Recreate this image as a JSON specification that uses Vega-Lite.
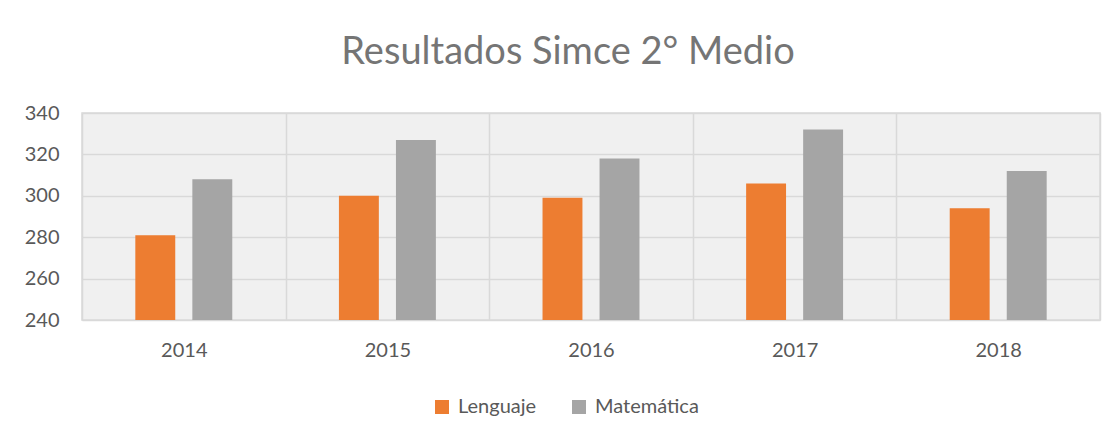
{
  "$schema": "https://vega.github.io/schema/vega-lite/v6.json",
  "autosize": "none",
  "width": 1018,
  "height": 207,
  "padding": {"left": 82, "top": 113, "right": 16, "bottom": 115},
  "background": "white",
  "title": {
    "text": "Resultados Simce 2° Medio",
    "anchor": "middle",
    "frame": "group",
    "dx": -23,
    "offset": 31,
    "font": "Lato",
    "fontSize": 38,
    "fontWeight": "normal",
    "color": "#757575"
  },
  "data": {
    "values": [
      {"year": "2014", "subject": "Lenguaje", "score": 281},
      {"year": "2014", "subject": "Matemática", "score": 308},
      {"year": "2015", "subject": "Lenguaje", "score": 300},
      {"year": "2015", "subject": "Matemática", "score": 327},
      {"year": "2016", "subject": "Lenguaje", "score": 299},
      {"year": "2016", "subject": "Matemática", "score": 318},
      {"year": "2017", "subject": "Lenguaje", "score": 306},
      {"year": "2017", "subject": "Matemática", "score": 332},
      {"year": "2018", "subject": "Lenguaje", "score": 294},
      {"year": "2018", "subject": "Matemática", "score": 312}
    ]
  },
  "mark": {"type": "bar", "clip": true},
  "encoding": {
    "x": {
      "field": "year",
      "type": "nominal",
      "scale": {"paddingInner": 0, "paddingOuter": 0},
      "axis": {
        "title": null,
        "grid": true,
        "tickBand": "extent",
        "ticks": false,
        "domain": false,
        "labelAngle": 0,
        "labelFont": "Lato",
        "labelFontSize": 20,
        "labelColor": "#595959",
        "labelPadding": 20,
        "gridColor": "#d9d9d9",
        "gridWidth": 1.5
      }
    },
    "xOffset": {
      "field": "subject",
      "type": "nominal",
      "scale": {"paddingInner": 0.3, "paddingOuter": 0.935}
    },
    "y": {
      "field": "score",
      "type": "quantitative",
      "scale": {"domain": [240, 340], "zero": false, "nice": false},
      "axis": {
        "title": null,
        "values": [240, 260, 280, 300, 320, 340],
        "ticks": false,
        "tickSize": 0,
        "domain": false,
        "labelFont": "Lato",
        "labelFontSize": 20,
        "labelColor": "#595959",
        "labelPadding": 23,
        "gridColor": "#d9d9d9",
        "gridWidth": 1.5
      }
    },
    "color": {
      "field": "subject",
      "type": "nominal",
      "scale": {"domain": ["Lenguaje", "Matemática"], "range": ["#ED7D31", "#A5A5A5"]},
      "legend": {
        "title": null,
        "orient": "none",
        "direction": "horizontal",
        "legendX": 350,
        "legendY": 284,
        "padding": 0,
        "symbolType": "square",
        "symbolSize": 196,
        "symbolStrokeWidth": 0,
        "labelFont": "Lato",
        "labelFontSize": 20,
        "labelColor": "#595959",
        "labelOffset": 6,
        "columnPadding": 32
      }
    }
  },
  "config": {
    "view": {"fill": "#f0f0f0", "stroke": "#d9d9d9", "strokeWidth": 1.5}
  }
}
